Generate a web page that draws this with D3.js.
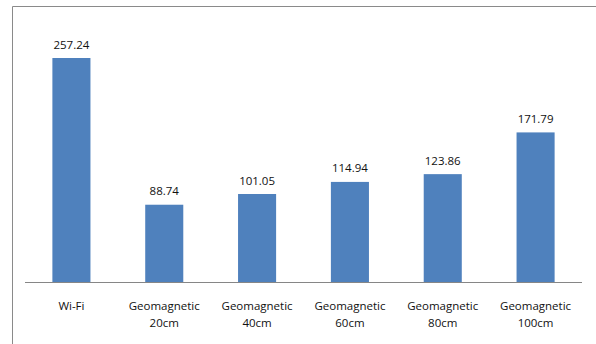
<!DOCTYPE html>
<html>
<head>
<meta charset="utf-8">
<script src="https://cdn.jsdelivr.net/npm/d3@7"></script>
<style>
  html, body { margin: 0; padding: 0; background: #fff; }
  svg { display: block; }
</style>
</head>
<body>
<svg id="chart" width="596" height="344"></svg>
<script>
// Category labels (two lines each) and series values
const categories = ["Wi-Fi", "Geomagnetic 20cm", "Geomagnetic 40cm", "Geomagnetic 60cm", "Geomagnetic 80cm", "Geomagnetic 100cm"];
const labelLines = [["Wi-Fi"], ["Geomagnetic", "20cm"], ["Geomagnetic", "40cm"], ["Geomagnetic", "60cm"], ["Geomagnetic", "80cm"], ["Geomagnetic", "100cm"]];
const values = [257.24, 88.74, 101.05, 114.94, 123.86, 171.79];

const W = 596, H = 344;
const svg = d3.select("#chart");
const font = "'Open Sans', 'Liberation Sans', sans-serif";

// Chart frame (extends past the right and bottom edges)
svg.append("path")
  .attr("d", `M12.5,${H + 2} V6.5 H${W + 2}`)
  .attr("fill", "none")
  .attr("stroke", "#8a8a8a")
  .attr("stroke-width", 1);

const plot = { left: 25, right: 582, top: 20, bottom: 282 };

const x = d3.scaleBand()
  .domain(categories)
  .range([plot.left, plot.right])
  .paddingInner(0.59)
  .paddingOuter(0.295);

const y = d3.scaleLinear()
  .domain([0, 300])
  .range([plot.bottom, plot.bottom - 300 * (224 / 257.24)]);

// Bars
svg.append("g").selectAll("rect")
  .data(values)
  .join("rect")
  .attr("x", (d, i) => x(categories[i]))
  .attr("y", d => y(d))
  .attr("width", x.bandwidth())
  .attr("height", d => y(0) - y(d))
  .attr("fill", "#4f81bd");

// Value labels
svg.append("g").selectAll("text")
  .data(values)
  .join("text")
  .attr("x", (d, i) => x(categories[i]) + x.bandwidth() / 2)
  .attr("y", d => y(d) - 9.5)
  .attr("text-anchor", "middle")
  .attr("font-family", font)
  .attr("font-size", 11.5)
  .attr("fill", "#111")
  .text(d => d.toFixed(2));

// Category axis
const axis = d3.axisBottom(x).tickSize(0).tickFormat("");
const ax = svg.append("g")
  .attr("transform", `translate(0,${plot.bottom + 0.5})`)
  .call(axis);
ax.select(".domain").attr("stroke", "#868686").attr("d", `M${plot.left},0H${plot.right}`);

const tl = svg.append("g").selectAll("text")
  .data(categories)
  .join("text")
  .attr("x", d => x(d) + x.bandwidth() / 2)
  .attr("y", 310)
  .attr("text-anchor", "middle")
  .attr("font-family", font)
  .attr("font-size", 11.5)
  .attr("fill", "#111");
tl.each(function(d, i) {
  const t = d3.select(this);
  labelLines[i].forEach((line, j) => {
    t.append("tspan")
      .attr("x", x(d) + x.bandwidth() / 2)
      .attr("dy", j === 0 ? 0 : 17)
      .text(line);
  });
});
</script>
</body>
</html>
